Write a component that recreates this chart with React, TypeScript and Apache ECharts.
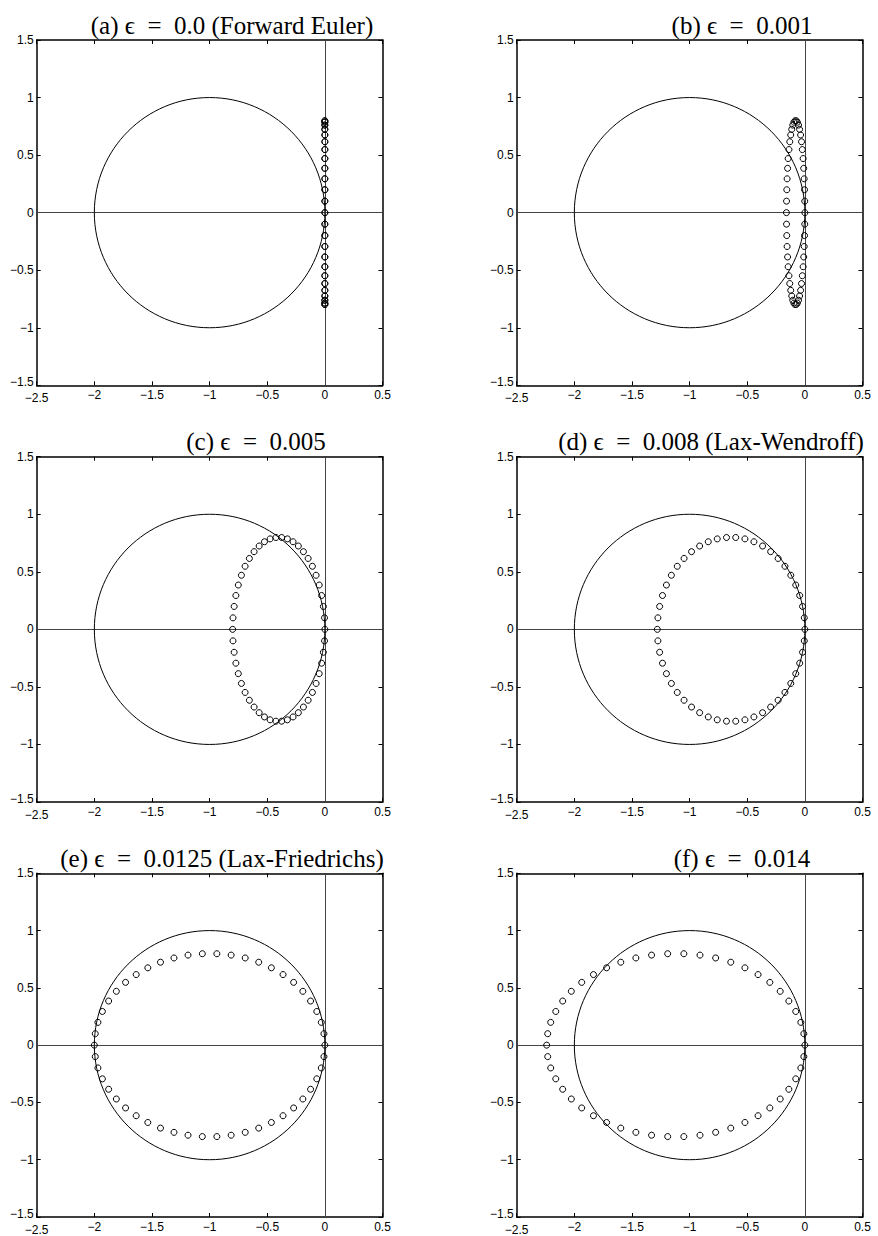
import React, { useEffect, useRef } from "react";
import * as echarts from "echarts";

// Imaginary parts (shared by all panels), 50 eigenvalues
const EIG_Y = [
  0, 0.100, 0.199, 0.294, 0.385, 0.470, 0.548, 0.616, 0.675, 0.724, 0.761, 0.786, 0.798,
  0.798, 0.786, 0.761, 0.724, 0.675, 0.616, 0.548, 0.470, 0.385, 0.294, 0.199, 0.100, 0,
  -0.100, -0.199, -0.294, -0.385, -0.470, -0.548, -0.616, -0.675, -0.724, -0.761, -0.786, -0.798,
  -0.798, -0.786, -0.761, -0.724, -0.675, -0.616, -0.548, -0.470, -0.385, -0.294, -0.199, -0.100,
];

// Real parts per panel
const EIG_X_A = [
  0, 0, 0, 0, 0, 0, 0, 0, 0, 0, 0, 0, 0, 0, 0, 0, 0, 0, 0, 0, 0, 0, 0, 0, 0, 0,
  0, 0, 0, 0, 0, 0, 0, 0, 0, 0, 0, 0, 0, 0, 0, 0, 0, 0, 0, 0, 0, 0, 0, 0,
];
const EIG_X_B = [
  0, -0.001, -0.003, -0.006, -0.010, -0.015, -0.022, -0.029, -0.037, -0.046, -0.055, -0.065, -0.075,
  -0.085, -0.095, -0.105, -0.114, -0.123, -0.131, -0.138, -0.145, -0.150, -0.154, -0.157, -0.159, -0.160,
  -0.159, -0.157, -0.154, -0.150, -0.145, -0.138, -0.131, -0.123, -0.114, -0.105, -0.095, -0.085,
  -0.075, -0.065, -0.055, -0.046, -0.037, -0.029, -0.022, -0.015, -0.010, -0.006, -0.003, -0.001,
];
const EIG_X_C = [
  0, -0.003, -0.013, -0.028, -0.049, -0.076, -0.108, -0.145, -0.186, -0.230, -0.276, -0.325, -0.375,
  -0.425, -0.475, -0.524, -0.570, -0.614, -0.655, -0.692, -0.724, -0.751, -0.772, -0.787, -0.797, -0.800,
  -0.797, -0.787, -0.772, -0.751, -0.724, -0.692, -0.655, -0.614, -0.570, -0.524, -0.475, -0.425,
  -0.375, -0.325, -0.276, -0.230, -0.186, -0.145, -0.108, -0.076, -0.049, -0.028, -0.013, -0.003,
];
const EIG_X_D = [
  0, -0.005, -0.020, -0.045, -0.079, -0.122, -0.173, -0.232, -0.297, -0.367, -0.442, -0.520, -0.600,
  -0.680, -0.760, -0.838, -0.913, -0.983, -1.048, -1.107, -1.158, -1.201, -1.235, -1.260, -1.275, -1.280,
  -1.275, -1.260, -1.235, -1.201, -1.158, -1.107, -1.048, -0.983, -0.913, -0.838, -0.760, -0.680,
  -0.600, -0.520, -0.442, -0.367, -0.297, -0.232, -0.173, -0.122, -0.079, -0.045, -0.020, -0.005,
];
const EIG_X_E = [
  0, -0.008, -0.031, -0.070, -0.124, -0.191, -0.271, -0.363, -0.464, -0.574, -0.691, -0.813, -0.937,
  -1.063, -1.187, -1.309, -1.426, -1.536, -1.637, -1.729, -1.809, -1.876, -1.930, -1.969, -1.992, -2.000,
  -1.992, -1.969, -1.930, -1.876, -1.809, -1.729, -1.637, -1.536, -1.426, -1.309, -1.187, -1.063,
  -0.937, -0.813, -0.691, -0.574, -0.464, -0.363, -0.271, -0.191, -0.124, -0.070, -0.031, -0.008,
];
const EIG_X_F = [
  0, -0.009, -0.035, -0.079, -0.139, -0.214, -0.304, -0.406, -0.520, -0.643, -0.774, -0.910, -1.050,
  -1.190, -1.330, -1.466, -1.597, -1.720, -1.834, -1.936, -2.026, -2.101, -2.161, -2.205, -2.231, -2.240,
  -2.231, -2.205, -2.161, -2.101, -2.026, -1.936, -1.834, -1.720, -1.597, -1.466, -1.330, -1.190,
  -1.050, -0.910, -0.774, -0.643, -0.520, -0.406, -0.304, -0.214, -0.139, -0.079, -0.035, -0.009,
];

const TITLES = [
  "(a) \u03F5\u2002=\u20020.0 (Forward Euler)",
  "(b) \u03F5\u2002=\u20020.001",
  "(c) \u03F5\u2002=\u20020.005",
  "(d) \u03F5\u2002=\u20020.008 (Lax-Wendroff)",
  "(e) \u03F5\u2002=\u20020.0125 (Lax-Friedrichs)",
  "(f) \u03F5\u2002=\u20020.014",
];
const PANEL_X = [EIG_X_A, EIG_X_B, EIG_X_C, EIG_X_D, EIG_X_E, EIG_X_F];

// Stability circle |1 + z| = 1
const CIRCLE_CENTER = [-1, 0];
const CIRCLE_RADIUS = 1;

const X_MIN = -2.5, X_MAX = 0.5, Y_MIN = -1.5, Y_MAX = 1.5, TICK_STEP = 0.5;

// layout
const COL_LEFT = [36.7, 516.7];
const ROW_TOP = [40, 456.7, 873.3];
const PLOT_W = 345.8;
const PLOT_H = 345.3;
const TITLE_CX = [232, 742, 256, 711, 222, 742];

const minus = (v: number) => String(v).replace("-", "\u2212");
const fmtX = (v: number) => (v === X_MIN ? `{lo|${minus(v)}}` : minus(v));
const fmtY = (v: number) => (v === Y_MIN ? `{lo|${minus(v)}}` : minus(v));

export default function App() {
  const ref = useRef<HTMLDivElement>(null);
  useEffect(() => {
    if (!ref.current) return;
    const chart = echarts.init(ref.current, undefined, { renderer: "svg" });
    const grids: any[] = [];
    const xAxes: any[] = [];
    const yAxes: any[] = [];
    const series: any[] = [];
    const graphics: any[] = [];
    const lineCol = "#000";
    const font = { fontFamily: "Liberation Sans", fontSize: 12, color: "#000" };
    for (let i = 0; i < 6; i++) {
      const col = i % 2;
      const row = Math.floor(i / 2);
      const left = COL_LEFT[col];
      const top = ROW_TOP[row];
      grids.push({ left, top, width: PLOT_W, height: PLOT_H, containLabel: false });
      const common = {
        gridIndex: i,
        type: "value",
        interval: TICK_STEP,
        axisLine: { show: true, onZero: false, lineStyle: { color: lineCol, width: 1.5 } },
        axisTick: { show: true, inside: true, length: 4, lineStyle: { color: lineCol, width: 1 } },
        splitLine: { show: false },
      };
      const labelStyle = {
        show: true,
        ...font,
        showMinLabel: true,
        showMaxLabel: true,
        hideOverlap: false,
      };
      xAxes.push({
        ...common,
        position: "bottom",
        min: X_MIN,
        max: X_MAX,
        axisLabel: {
          ...labelStyle,
          margin: 4,
          formatter: fmtX,
          rich: { lo: { ...font, padding: [3, 0, 0, 0] } },
        },
      });
      xAxes.push({ ...common, position: "top", min: X_MIN, max: X_MAX, axisLabel: { show: false } });
      yAxes.push({
        ...common,
        position: "left",
        min: Y_MIN,
        max: Y_MAX,
        axisLabel: {
          ...labelStyle,
          margin: 3,
          formatter: fmtY,
          rich: { lo: { ...font, padding: [0, 0, 6, 0] } },
        },
      });
      yAxes.push({ ...common, position: "right", min: Y_MIN, max: Y_MAX, axisLabel: { show: false } });

      // unit circle (stability region boundary)
      series.push({
        type: "custom",
        xAxisIndex: 2 * i,
        yAxisIndex: 2 * i,
        silent: true,
        clip: false,
        data: [[CIRCLE_CENTER[0], CIRCLE_CENTER[1], CIRCLE_RADIUS]],
        encode: { x: 0, y: 1 },
        renderItem: (params: any, api: any) => {
          const c = api.coord([api.value(0), api.value(1)]);
          const s = api.size([api.value(2), api.value(2)]);
          return {
            type: "ellipse",
            shape: { cx: c[0], cy: c[1], rx: s[0], ry: s[1] },
            style: { fill: "none", stroke: "#000", lineWidth: 1 },
          };
        },
        z: 2,
      });

      // eigenvalues + axis cross lines
      const xs = PANEL_X[i];
      series.push({
        type: "scatter",
        xAxisIndex: 2 * i,
        yAxisIndex: 2 * i,
        symbol: "circle",
        symbolSize: 6,
        itemStyle: { color: "rgba(0,0,0,0)", borderColor: "#000", borderWidth: 1, opacity: 1 },
        data: xs.map((x, k) => [x, EIG_Y[k]]),
        z: 3,
        silent: true,
        markLine: {
          silent: true,
          symbol: ["none", "none"],
          label: { show: false },
          lineStyle: { color: "#444", width: 1, type: "solid" },
          data: [{ xAxis: 0 }, { yAxis: 0 }],
          z: 1,
        },
      });

      graphics.push({
        type: "text",
        x: TITLE_CX[i],
        y: top - 15,
        style: {
          text: TITLES[i],
          fontFamily: "Liberation Serif",
          fontSize: 25,
          fill: "#000",
          textAlign: "center",
          textVerticalAlign: "middle",
        },
      });
    }
    chart.setOption({
      animation: false,
      backgroundColor: "#fff",
      grid: grids,
      xAxis: xAxes,
      yAxis: yAxes,
      series,
      graphic: graphics,
    });
    return () => chart.dispose();
  }, []);
  return (
    <div
      ref={ref}
      style={{ position: "absolute", left: 0, top: 0, width: 878, height: 1236, background: "#fff" }}
    />
  );
}
